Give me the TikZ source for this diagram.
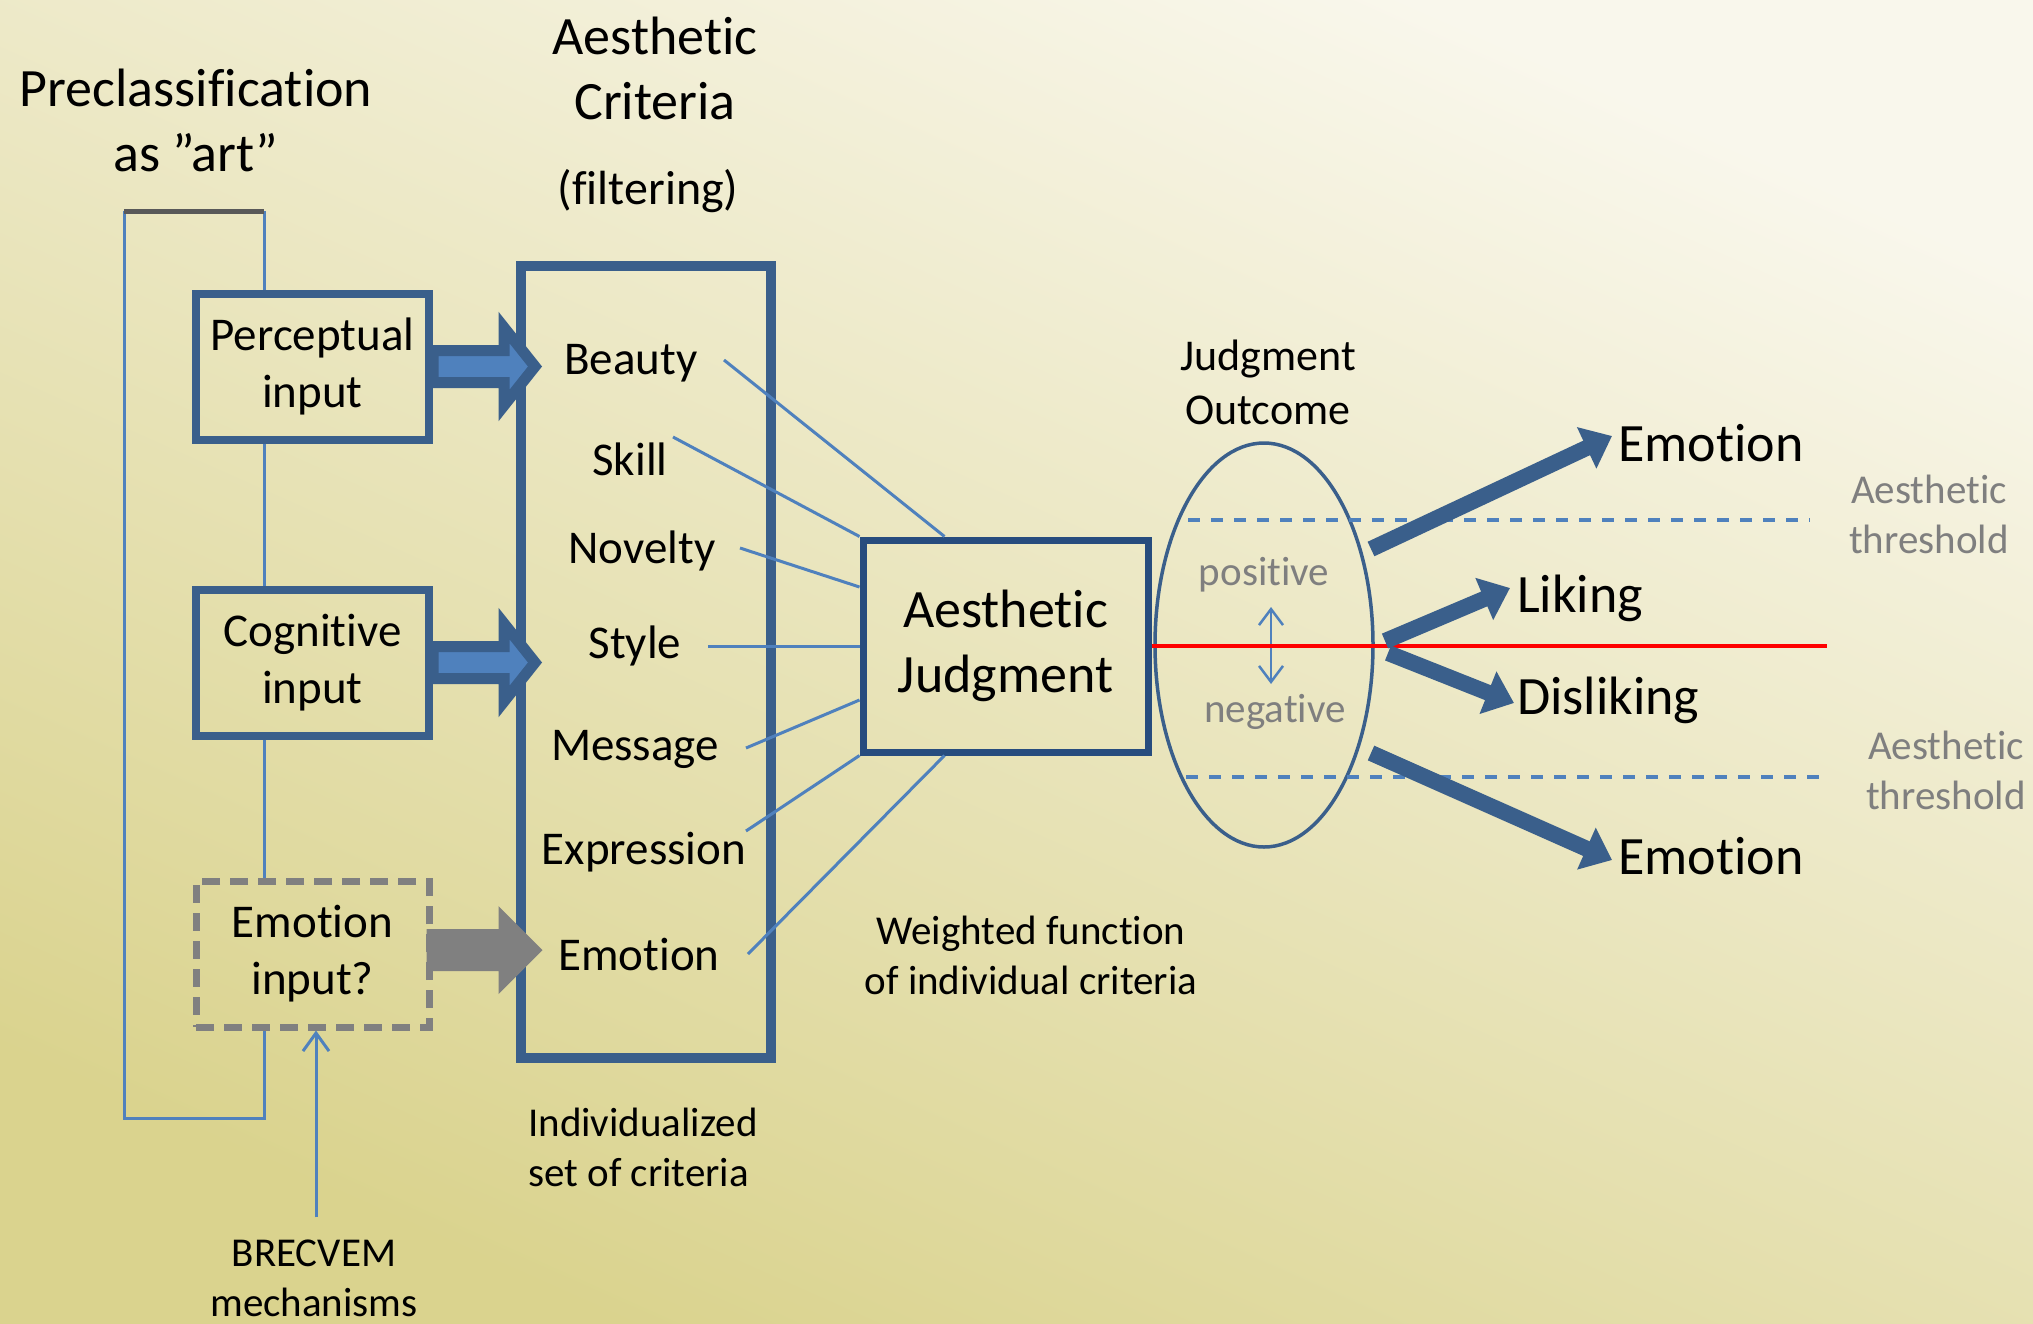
\documentclass[tikz,border=0pt]{standalone}
\usepackage{fontspec}
\setmainfont{Carlito}[Ligatures={TeX,CommonOff}]
\usetikzlibrary{arrows.meta,calc,shapes.geometric}
\definecolor{boxblue}{HTML}{3A5F8B}
\definecolor{ajblue}{HTML}{274C7E}
\definecolor{lineblue}{HTML}{4F81BD}
\definecolor{arrfill}{HTML}{4F81BD}
\definecolor{graytxt}{HTML}{7F7F7F}
\definecolor{grayarr}{HTML}{808080}
\definecolor{barcol}{HTML}{595959}
\definecolor{bgtop}{HTML}{F9F7EC}
\definecolor{bgbot}{HTML}{DAD38E}
\newcommand{\fbig}{\fontsize{54pt}{65pt}\selectfont}
\newcommand{\fmid}{\fontsize{47pt}{57pt}\selectfont}
\newcommand{\fflt}{\fontsize{48pt}{58pt}\selectfont}
\newcommand{\fsml}{\fontsize{41pt}{50pt}\selectfont}
\newcommand{\fjo}{\fontsize{44pt}{54pt}\selectfont}
\begin{document}
\begin{tikzpicture}[x=1pt,y=-1pt,
  txt/.style={inner sep=0pt, align=center},
  inbox/.style={draw=boxblue, line width=8pt, minimum width=233pt, minimum height=146pt, inner sep=0pt, align=center, font=\fmid},
  conn/.style={draw=lineblue, line width=3pt},
  crl/.style={draw=lineblue, line width=3pt},
  blockarr/.style={fill=arrfill, draw=boxblue, line width=11pt},
  grayblock/.style={fill=grayarr},
  outarr/.style={draw=boxblue, line width=16pt, -{Triangle[length=28pt,width=44pt]}},
  thr/.style={draw=lineblue, line width=3.5pt, dash pattern=on 12pt off 11pt},
  redl/.style={draw=red, line width=4pt},
  smallarr/.style={draw=lineblue, line width=2.5pt},
]
\useasboundingbox (0,0) rectangle (2033,1323);
\shade[top color=bgtop, bottom color=bgbot, shading angle=-24] (0,0) rectangle (2033,1323);

% titles
\node[txt, font=\fbig] (precl) at (196,120) {Preclassification\\as ”art”};
\node[txt, font=\fbig] (crittitle) at (655,68.5) {Aesthetic\\Criteria};
\node[txt, font=\fflt] (filt) at (648,191) {(filtering)};

% left loop
\coordinate (barL) at (124,211);
\coordinate (barR) at (264,211);
\coordinate (loopBL) at (124,1118);
\coordinate (loopBR) at (264,1118);

% input boxes
\node[inbox] (perc) at (312.5,366.5) {Perceptual\\input};
\node[inbox] (cog) at (312.5,662.5) {Cognitive\\input};
\node[inbox, draw=grayarr, line width=7pt, dash pattern=on 18pt off 10pt] (emo) at (312.5,954) {Emotion\\input?};

\draw[conn] (barR) -- (barR |- perc.north);
\draw[conn] (barR |- perc.south) -- (barR |- cog.north);
\draw[conn] (barR |- cog.south) -- (barR |- emo.north);
\draw[conn] (barL) -- (loopBL) -- (loopBR) -- (loopBR |- emo.south);
\draw[draw=barcol, line width=5pt] (barL) -- (barR);

% criteria box
\node[draw=boxblue, line width=10pt, minimum width=250pt, minimum height=792pt, inner sep=0pt] (crit) at (646,662) {};

% criteria
\node[txt, font=\fmid] (beauty) at (631,363) {Beauty};
\node[txt, font=\fmid] (skill) at (630,459) {Skill};
\node[txt, font=\fmid] (novelty) at (642,551) {Novelty};
\node[txt, font=\fmid] (style) at (635,646) {Style};
\node[txt, font=\fmid] (message) at (635,749) {Message};
\node[txt, font=\fmid] (expression) at (644,852) {Expression};
\node[txt, font=\fmid] (emocrit) at (639,954) {Emotion};

% block arrows
\draw[blockarr] (perc.east) ++(0,-16) -- ++(71,0) -- ++(0,-23) -- ++(31,39) -- ++(-31,39) -- ++(0,-23) -- ++(-71,0) -- cycle;
\draw[blockarr] (cog.east) ++(0,-16) -- ++(71,0) -- ++(0,-23) -- ++(31,39) -- ++(-31,39) -- ++(0,-23) -- ++(-71,0) -- cycle;
\fill[grayblock] (emo.east) ++(-6,-25) -- ++(72,0) -- ++(0,-23) -- ++(44,44) -- ++(-44,44) -- ++(0,-23) -- ++(-72,0) -- cycle;

% aesthetic judgment
\node[draw=ajblue, line width=7pt, minimum width=285pt, minimum height=212pt, inner sep=0pt, align=center, font=\fbig] (aj) at (1005.5,646) {Aesthetic\\Judgment};

\draw[crl] ($(beauty.center)+(93,-3)$) -- ($(aj.north west)+(85,0)$);
\draw[crl] ($(skill.center)+(43,-22)$) -- (aj.north west);
\draw[crl] ($(novelty.center)+(98,-3)$) -- ($(aj.west)+(0,-59)$);
\draw[crl] ($(style.center)+(73,0)$) -- (aj.west);
\draw[crl] ($(message.center)+(111,-1)$) -- ($(aj.west)+(0,54)$);
\draw[crl] ($(expression.center)+(102,-21)$) -- (aj.south west);
\draw[crl] ($(emocrit.center)+(109,0)$) -- ($(aj.south west)+(85,0)$);

% labels below
\node[txt, font=\fsml, align=left, anchor=west] (indiv) at (528,1147.5) {Individualized\\set of criteria};
\node[txt, font=\fsml] (weighted) at (1031,955) {Weighted function\\of individual criteria};
\node[txt, font=\fsml] (brec) at (314,1278) {BRECVEM\\mechanisms};
\coordinate (brecTop) at ($(brec.north)+(2,-22)$);
\draw[smallarr, line width=3pt, -{Straight Barb[length=18pt,width=26pt]}] (brecTop) -- (brecTop |- emo.south);

% outcome
\node[txt, font=\fjo] (jo) at (1268,382) {Judgment\\Outcome};
\node[draw=boxblue, line width=3.5pt, ellipse, minimum width=218pt, minimum height=404pt, inner sep=0pt] (ell) at (1264,645) {};
\node[txt, font=\fsml, text=graytxt] (pos) at (1264,575) {positive};
\node[txt, font=\fsml, text=graytxt] (neg) at (1275,712) {negative};
\coordinate (pn1) at (1271,607);
\coordinate (pn2) at (1271,684);
\draw[smallarr, {Straight Barb[length=16pt,width=24pt]}-{Straight Barb[length=16pt,width=24pt]}] (pn1) -- (pn2);

\coordinate (redend) at (1827,646);
\draw[redl] (aj.east) -- (redend);

\coordinate (t1a) at (1188,520);
\coordinate (t1b) at (1810,520);
\coordinate (t2a) at (1186,777);
\coordinate (t2b) at (1826,777);
\draw[thr] (t1a) -- (t1b);
\draw[thr] (t2a) -- (t2b);

\node[txt, font=\fbig, anchor=west] (emoU) at (1618,443) {Emotion};
\node[txt, font=\fbig, anchor=west] (liking) at (1517,598) {Liking};
\node[txt, font=\fbig, anchor=west] (disliking) at (1517,700) {Disliking};
\node[txt, font=\fbig, anchor=west] (emoD) at (1618,856) {Emotion};

\node[txt, font=\fsml, text=graytxt] (thrU) at (1929,514.5) {Aesthetic\\threshold};
\node[txt, font=\fsml, text=graytxt] (thrD) at (1946,770.5) {Aesthetic\\threshold};

\coordinate (o1s) at (1371,549);
\coordinate (o2s) at (1385,641);
\coordinate (o3s) at (1388,653);
\coordinate (o4s) at (1371,753);
\draw[outarr] (o1s) -- ($(emoU.west)+(-6,-7)$);
\draw[outarr] (o2s) -- ($(liking.west)+(-7,-10)$);
\draw[outarr] (o3s) -- ($(disliking.west)+(-3,3)$);
\draw[outarr] (o4s) -- ($(emoD.west)+(-6,4)$);
\end{tikzpicture}
\end{document}
